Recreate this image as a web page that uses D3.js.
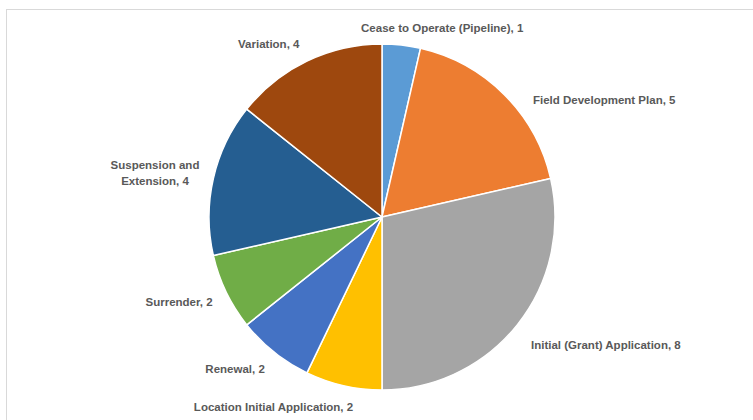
<!DOCTYPE html>
<html>
<head>
<meta charset="utf-8">
<script src="https://cdn.jsdelivr.net/npm/d3@7"></script>
<style>
  body { margin: 0; background: #fff; }
  svg { display: block; }
</style>
</head>
<body>
<div id="chart-area"></div>
<script>
// Application types, counts and slice colours
var categories = ["Cease to Operate (Pipeline)", "Field Development Plan", "Initial (Grant) Application",
	"Location Initial Application", "Renewal", "Surrender", "Suspension and Extension", "Variation"];
var counts = [1, 5, 8, 2, 2, 2, 4, 4];
var colours = ["#5B9BD5", "#ED7D31", "#A5A5A5", "#FFC000", "#4472C4", "#70AD47", "#255E91", "#9E480E"];
// label lines (Suspension wraps onto two lines)
var labelLines = [
	["Cease to Operate (Pipeline), 1"],
	["Field Development Plan, 5"],
	["Initial (Grant) Application, 8"],
	["Location Initial Application, 2"],
	["Renewal, 2"],
	["Surrender, 2"],
	["Suspension and", "Extension, 4"],
	["Variation, 4"]
];
// small nudges for label placement (Excel "best fit")
var labelNudge = [[-42, -2], [18, 16], [2, 11], [13, 7], [0, 5], [0, 3], [1, -2], [-1, -4]];

var width = 753, height = 420;
var cx = 382, cy = 217, radius = 173;

var svg = d3.select("#chart-area")
	.append("svg")
		.attr("width", width)
		.attr("height", height);

// chart area border
svg.append("rect")
	.attr("x", 6.5)
	.attr("y", 9.5)
	.attr("width", width + 20)
	.attr("height", height + 20)
	.attr("fill", "none")
	.attr("stroke", "#d9d9d9")
	.attr("stroke-width", 1);

var g = svg.append("g")
	.attr("transform", "translate(" + cx + "," + cy + ")");

var data = categories.map(function(c, i){
	return { name: c, value: counts[i], colour: colours[i], lines: labelLines[i], nudge: labelNudge[i] };
});

var pie = d3.pie()
	.sort(null)
	.value(function(d){ return d.value; });

var arc = d3.arc()
	.innerRadius(0)
	.outerRadius(radius);

var labelArc = d3.arc()
	.innerRadius(radius + 15)
	.outerRadius(radius + 15);

var arcs = pie(data);

g.selectAll("path.slice")
	.data(arcs)
	.enter()
	.append("path")
		.attr("class", "slice")
		.attr("d", arc)
		.attr("fill", function(d){ return d.data.colour; })
		.attr("stroke", "#fff")
		.attr("stroke-width", 1.5)
		.attr("stroke-linejoin", "round");

var lineH = 16.5;

var labels = g.selectAll("text.label")
	.data(arcs)
	.enter()
	.append("text")
		.attr("class", "label")
		.attr("font-family", "'Liberation Sans Narrow', 'Arial Narrow', 'Liberation Sans', sans-serif")
		.attr("font-weight", "bold")
		.attr("font-size", "11.5px")
		.attr("fill", "#595959")
		.attr("text-anchor", function(d){
			var mid = (d.startAngle + d.endAngle) / 2;
			return mid < Math.PI ? "start" : "end";
		})
		.attr("transform", function(d){
			var c = labelArc.centroid(d);
			return "translate(" + (c[0] + d.data.nudge[0]) + "," + (c[1] + d.data.nudge[1]) + ")";
		});

labels.each(function(d){
	var t = d3.select(this);
	var n = d.data.lines.length;
	d.data.lines.forEach(function(line, i){
		t.append("tspan")
			.attr("x", 0)
			.attr("y", (i - (n - 1) / 2) * lineH)
			.attr("dy", "0.35em")
			.text(line);
	});
});

// centre the multi-line label on its widest line, as Excel does
labels.filter(function(d){ return d.data.lines.length > 1; })
	.each(function(d){
		var t = d3.select(this);
		var w = this.getBBox().width;
		t.attr("text-anchor", "middle");
		t.selectAll("tspan").attr("x", -w / 2);
	});
</script>
</body>
</html>
